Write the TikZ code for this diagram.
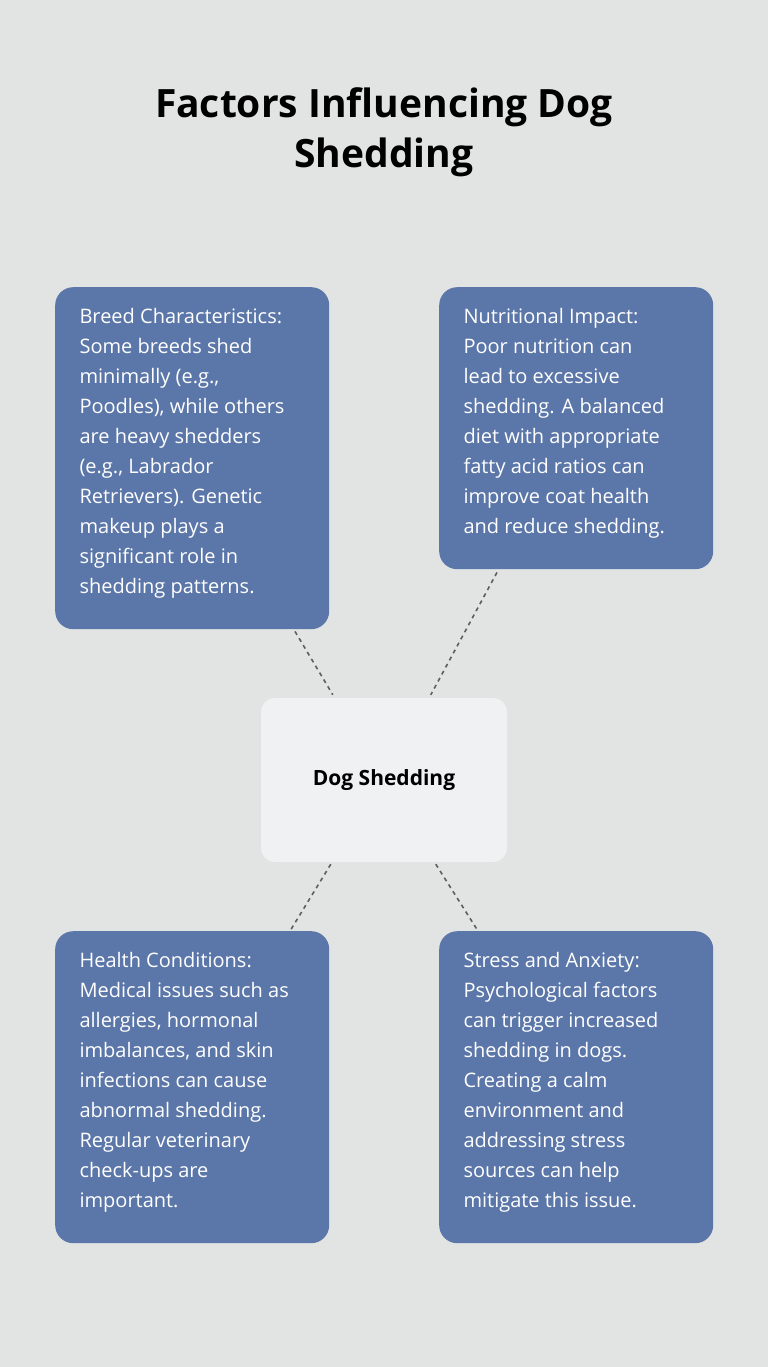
\documentclass[tikz,border=0pt]{standalone}
\usepackage{fontspec}
\setmainfont{Open Sans}
\usetikzlibrary{calc}
\begin{document}
\begin{tikzpicture}[x=1pt,y=-1pt,
  card/.style={fill=cardblue,rounded corners=18pt,anchor=north west,inner sep=0pt},
  cardtext/.style={anchor=north west,text=white,align=left,font=\fontsize{20}{30}\selectfont},
  link/.style={draw=linkgray,dashed,line width=1.6pt,dash pattern=on 4pt off 4pt}]
\definecolor{bg}{HTML}{E1E4E3}
\definecolor{cardblue}{HTML}{5B76A8}
\definecolor{centerbox}{HTML}{EFF1F2}
\definecolor{linkgray}{HTML}{5E5E5E}
\fill[bg] (0,0) rectangle (768,1367);
\useasboundingbox (0,0) rectangle (768,1367);
\node[font=\fontsize{39}{50}\selectfont\bfseries,align=center] (title) at (384,132) {Factors Influencing Dog\\Shedding};
\node[card,minimum width=274pt,minimum height=342pt] (b1) at (55,287) {};
\node[card,minimum width=274pt,minimum height=282pt] (b2) at (439,287) {};
\node[card,minimum width=274pt,minimum height=312pt] (b3) at (55,931) {};
\node[card,minimum width=274pt,minimum height=312pt] (b4) at (439,931) {};
\node[fill=centerbox,rounded corners=14pt,minimum width=246pt,minimum height=164pt,font=\fontsize{21}{26}\selectfont\bfseries] (c) at (384,780) {Dog Shedding};
\node[cardtext] (t1) at (76,305) {Breed Characteristics:\\Some breeds shed\\minimally (e.g.,\\Poodles), while others\\are heavy shedders\\(e.g., Labrador\\Retrievers). Genetic\\makeup plays a\\significant role in\\shedding patterns.};
\node[cardtext] (t2) at (460,305) {Nutritional Impact:\\Poor nutrition can\\lead to excessive\\shedding. A balanced\\diet with appropriate\\fatty acid ratios can\\improve coat health\\and reduce shedding.};
\node[cardtext] (t3) at (76,949) {Health Conditions:\\Medical issues such as\\allergies, hormonal\\imbalances, and skin\\infections can cause\\abnormal shedding.\\Regular veterinary\\check-ups are\\important.};
\node[cardtext] (t4) at (460,949) {Stress and Anxiety:\\Psychological factors\\can trigger increased\\shedding in dogs.\\Creating a calm\\environment and\\addressing stress\\sources can help\\mitigate this issue.};
\draw[link] ($(b1.south west)+(240,2)$) -- ($(c.north west)+(72,-3)$);
\draw[link] ($(b2.south west)+(58,3)$) -- ($(c.north west)+(170,-3)$);
\draw[link] ($(c.south west)+(70,2)$) -- ($(b3.north west)+(235,0)$);
\draw[link] ($(c.south west)+(175,2)$) -- ($(b4.north west)+(39,0)$);
\end{tikzpicture}
\end{document}
